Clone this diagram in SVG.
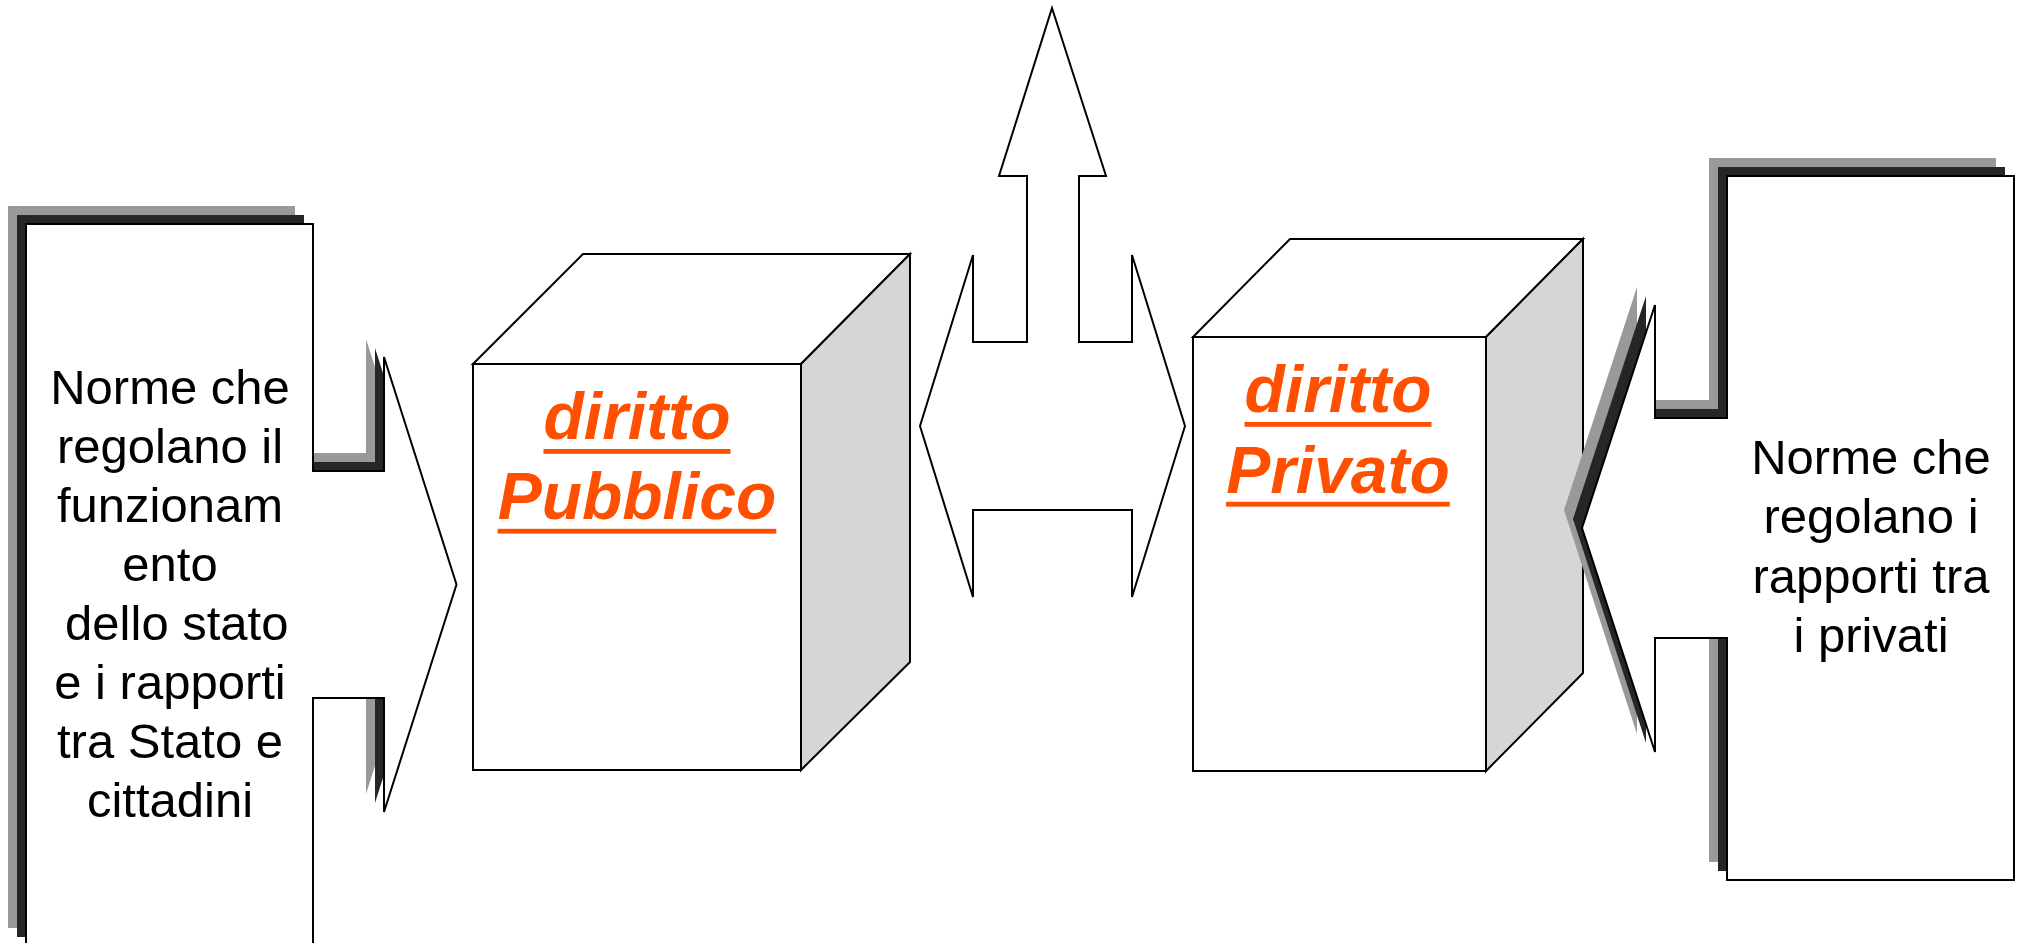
<svg xmlns="http://www.w3.org/2000/svg" xmlns:xlink="http://www.w3.org/1999/xlink" width="2022" height="943" viewBox="0 0 2022 943">
<style>
.shape{fill:#ffffff;stroke:#000000;stroke-width:2;stroke-linejoin:miter}
.side{fill:#d6d6d6;stroke:#000000;stroke-width:2}
.sh1{fill:#999999}
.sh2{fill:#262626}
.norm{font-family:"Liberation Sans",Arial,sans-serif;font-size:49px;fill:#000000;text-anchor:middle}
.title{font-family:"Liberation Sans",Arial,sans-serif;font-size:66px;font-weight:bold;font-style:italic;fill:#ff4f00;text-anchor:middle}
.ul{fill:#ff4f00}
</style>
<defs>
<path id="leftCallout" d="M26,224 H313 V471 H384 V357 L456.5,584.5 L384,812 V698 H313 V946 H26 Z"/>
<path id="rightCallout" d="M2014,176 H1727 V418 H1655 V305 L1582,528 L1655,752 V638 H1727 V880 H2014 Z"/>
</defs>
<rect width="2022" height="943" fill="#ffffff"/>
<g id="left-callout">
<use xlink:href="#leftCallout" class="sh1" transform="translate(-18,-18)"/>
<use xlink:href="#leftCallout" class="sh2" transform="translate(-9,-9)"/>
<use xlink:href="#leftCallout" class="shape"/>
<text class="norm" x="170" y="404">Norme che</text>
<text class="norm" x="170" y="463">regolano il</text>
<text class="norm" x="170" y="522">funzionam</text>
<text class="norm" x="170" y="581">ento</text>
<text class="norm" x="170" y="640" xml:space="preserve"> dello stato</text>
<text class="norm" x="170" y="699">e i rapporti</text>
<text class="norm" x="170" y="758">tra Stato e</text>
<text class="norm" x="170" y="817">cittadini</text>
</g>
<g id="cube-pubblico">
<polygon class="shape" points="473,364 583,254 910,254 801,364"/>
<polygon class="side" points="801,364 910,254 910,662 801,770"/>
<rect class="shape" x="473" y="364" width="328" height="406"/>
<text class="title" x="637" y="439">diritto</text>
<rect class="ul" x="543.5" y="449" width="187" height="4.8"/>
<text class="title" x="637" y="519">Pubblico</text>
<rect class="ul" x="497.6" y="528.8" width="278.7" height="4.8"/>
</g>
<g id="connectors">
<path id="central-arrow" class="shape" d="M1052,8 L1106,176 H1079 V342 H1132 V255 L1185,426 L1132,597 V510 H973 V597 L920,426 L973,255 V342 H1027 V176 H999 Z"/>
</g>
<g id="cube-privato">
<polygon class="shape" points="1193,337 1290,239 1583,239 1486,337"/>
<polygon class="side" points="1486,337 1583,239 1583,673 1486,771"/>
<rect class="shape" x="1193" y="337" width="293" height="434"/>
<text class="title" x="1338" y="412">diritto</text>
<rect class="ul" x="1244.5" y="422" width="187" height="4.8"/>
<text class="title" x="1338" y="493">Privato</text>
<rect class="ul" x="1226.1" y="501.8" width="223.7" height="4.8"/>
</g>
<g id="right-callout">
<use xlink:href="#rightCallout" class="sh1" transform="translate(-18,-18)"/>
<use xlink:href="#rightCallout" class="sh2" transform="translate(-9,-9)"/>
<use xlink:href="#rightCallout" class="shape"/>
<text class="norm" x="1871" y="474">Norme che</text>
<text class="norm" x="1871" y="533">regolano i</text>
<text class="norm" x="1871" y="593">rapporti tra</text>
<text class="norm" x="1871" y="652">i privati</text>
</g>
</svg>
